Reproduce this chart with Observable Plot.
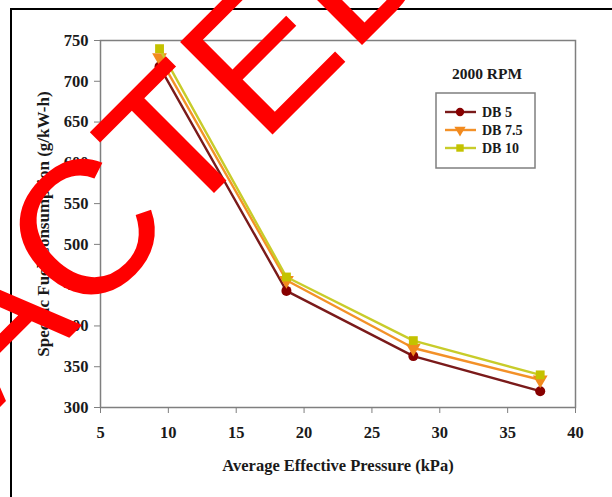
<!DOCTYPE html>
<html>
<head>
<meta charset="utf-8">
<script src="https://cdn.jsdelivr.net/npm/d3@7"></script>
<script src="https://cdn.jsdelivr.net/npm/@observablehq/plot@0.6"></script>
<style>
  html, body { margin: 0; padding: 0; background: #fff; overflow: hidden; }
  #page { position: relative; width: 612px; height: 497px; overflow: hidden; background: #fff; }
  #border { position: absolute; left: 10px; top: 8px; width: 700px; height: 600px; border: 2px solid #000; box-sizing: border-box; }
  #chart { position: absolute; left: 0; top: 0; }
  #stamp { position: absolute; left: 0; top: 0; pointer-events: none; }
</style>
</head>
<body>
<div id="page">
  <div id="border"></div>
  <div id="chart"></div>
  <svg id="stamp" width="612" height="497"></svg>
</div>
<script>
// Average effective pressure (kPa) at each load step
const pressure = [9.35, 18.7, 28.05, 37.4];
// Specific fuel consumption (g/kW-h) for each blend
const seriesNames = ["DB 5", "DB 7.5", "DB 10"];
const db5 = [718, 443, 363, 320];
const db75 = [729, 456, 373, 334];
const db10 = [740, 460, 382, 340];
const xTicks = [5, 10, 15, 20, 25, 30, 35, 40];
const yTicks = [300, 350, 400, 450, 500, 550, 600, 650, 700, 750];
const speedLabel = "2000 RPM";

const lineColors = ["#7a1a1a", "#f39128", "#c8cc2a"];
const dotColors = ["#870000", "#f28a1e", "#c4c200"];
const symbols = ["circle", "triangle", "square"];
const symbolRotate = [0, 180, 0];
const symbolSize = [5, 5.5, 5];

const values = [db5, db75, db10];
const rows = seriesNames.flatMap((name, i) =>
  pressure.map((p, j) => ({series: name, p, sfc: values[i][j]}))
);

const serif = "'Liberation Serif', 'Times New Roman', Times, serif";

const seriesMarks = seriesNames.flatMap((name, i) => {
  const data = rows.filter(d => d.series === name);
  return [
    Plot.line(data, {x: "p", y: "sfc", stroke: lineColors[i], strokeWidth: 2.4}),
    Plot.dot(data, {x: "p", y: "sfc", symbol: symbols[i], rotate: symbolRotate[i],
                    r: symbolSize[i], fill: dotColors[i], stroke: "none"})
  ];
});

const chart = Plot.plot({
  width: 612,
  height: 497,
  marginLeft: 100,
  marginRight: 37,
  marginTop: 40,
  marginBottom: 90,
  style: {fontFamily: serif, fontSize: "16px", fontWeight: "bold", color: "#1a1a1a", background: "transparent", overflow: "visible"},
  x: {domain: [5, 40]},
  y: {domain: [300, 750]},
  marks: [
    Plot.frame({stroke: "#7f7f7f", strokeWidth: 1.5}),
    Plot.axisX({ticks: xTicks, tickSize: 6, tickPadding: 13, stroke: "#7f7f7f", fontSize: 16.5, label: null}),
    Plot.axisX({ticks: [], label: "Average Effective Pressure (kPa)", labelAnchor: "center",
                labelOffset: 63, labelArrow: "none", fontSize: 16.5}),
    Plot.axisY({ticks: yTicks, tickSize: 6, tickPadding: 6, stroke: "#7f7f7f", fontSize: 16.5, label: null}),
    Plot.axisY({ticks: [], label: "Specific Fuel Consumption (g/kW-h)", labelAnchor: "center",
                labelOffset: 64, labelArrow: "none", fontSize: 17}),
    ...seriesMarks
  ]
});
document.getElementById("chart").append(chart);

// Legend: speed title, boxed series entries
const svg = d3.select(chart);
const lg = svg.append("g").attr("font-family", serif).attr("font-weight", "bold")
  .attr("fill", "#1a1a1a").attr("text-anchor", "start");
lg.append("text").attr("x", 487).attr("y", 74).attr("dy", "0.35em")
  .attr("text-anchor", "middle").attr("font-size", 15.5).text(speedLabel);
lg.append("rect").attr("x", 436).attr("y", 93).attr("width", 99).attr("height", 75)
  .attr("fill", "#fff").attr("stroke", "#7f7f7f").attr("stroke-width", 1.5);
const d3Symbols = {circle: d3.symbolCircle, triangle: d3.symbolTriangle, square: d3.symbolSquare};
seriesNames.forEach((name, i) => {
  const y = 112 + i * 18;
  lg.append("line").attr("x1", 445).attr("x2", 476).attr("y1", y).attr("y2", y)
    .attr("stroke", lineColors[i]).attr("stroke-width", 2.4);
  lg.append("path")
    .attr("d", d3.symbol(d3Symbols[symbols[i]], 55)())
    .attr("transform", `translate(460,${y}) rotate(${symbolRotate[i]})`)
    .attr("fill", dotColors[i]);
  lg.append("text").attr("x", 482).attr("y", y).attr("dy", "0.35em")
    .attr("text-anchor", "start").attr("font-size", 14).text(name);
});

// Red retraction stamp laid across the figure
d3.select("#stamp").append("text")
  .attr("transform", "translate(-373,780) rotate(-45)")
  .attr("font-family", "'Liberation Sans', Arial, sans-serif")
  .attr("font-size", 190)
  .attr("fill", "#ff0000")
  .text("RETRACTED");
</script>
</body>
</html>
